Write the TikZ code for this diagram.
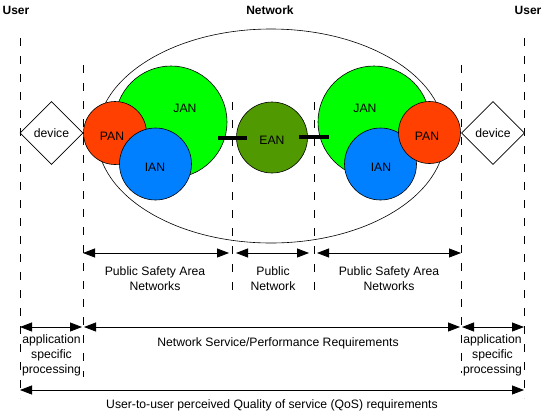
\documentclass[tikz,border=0pt]{standalone}
\usepackage{fontspec}
\setmainfont{Liberation Sans}
\usetikzlibrary{shapes.geometric,arrows.meta}
\definecolor{jancol}{RGB}{0,255,0}
\definecolor{pancol}{RGB}{255,64,0}
\definecolor{iancol}{RGB}{0,128,255}
\definecolor{eancol}{RGB}{80,153,0}
\begin{document}
\begin{tikzpicture}[x=1pt,y=-1pt,
  every node/.style={font=\fontsize{12.2}{15}\selectfont, inner sep=0pt},
  net/.style={circle, draw=black, line width=0.6pt, minimum size=#1},
  devbox/.style={diamond, draw=black, line width=0.6pt, minimum width=63pt, minimum height=63pt, aspect=1, fill=white},
  sep/.style={line width=0.8pt, dash pattern=on 8pt off 10pt},
  dim/.style={line width=0.8pt, {Triangle[length=12pt,width=9pt]}-{Triangle[length=12pt,width=9pt]}},
  bar/.style={line width=3.5pt},
  hdr/.style={font=\fontsize{12}{14}\selectfont\bfseries},
  lbl/.style={align=center}]
\useasboundingbox (0,0) rectangle (546,416);
\fill[white] (0,0) rectangle (546,416);
% headers
\node[hdr] (userL) at (16,10) {User};
\node[hdr] (netw) at (270,10) {Network};
\node[hdr] (userR) at (528,10) {User};
% separators
\coordinate (s1t) at (20,38);  \coordinate (s1b) at (20,398);
\coordinate (s2t) at (83,65);  \coordinate (s2b) at (83,377);
\coordinate (s3t) at (232,102); \coordinate (s3b) at (232,290);
\coordinate (s4t) at (314,102); \coordinate (s4b) at (314,290);
\coordinate (s5t) at (461,65); \coordinate (s5b) at (461,373);
\coordinate (s6t) at (524,38); \coordinate (s6b) at (524,398);
\foreach \i in {1,...,6} \draw[sep] (s\i t) -- (s\i b);
% ellipse
\node[ellipse, draw=black, line width=0.6pt, minimum width=348pt, minimum height=214pt] (cloud) at (271,136) {};
% left cluster
\node[net=112pt, fill=jancol] (janL) at (171,122) {};
\node[net=63pt, fill=pancol] (panL) at (115,133) {};
\node[net=72pt, fill=iancol] (ianL) at (155.5,164) {};
% EAN
\node[net=71pt, fill=eancol] (ean) at (272,137.5) {};
% right cluster
\node[net=112pt, fill=jancol] (janR) at (374,122) {};
\node[net=72pt, fill=iancol] (ianR) at (380.5,164) {};
\node[net=62pt, fill=pancol] (panR) at (429.5,132.5) {};
% labels
\node (tJanL) at (185,108) {JAN};
\node (tPanL) at (112,136) {PAN};
\node (tIanL) at (155,167) {IAN};
\node (tEan) at (272,140) {EAN};
\node (tJanR) at (365,108) {JAN};
\node (tIanR) at (381,167) {IAN};
\node (tPanR) at (427,136) {PAN};
% bars
\coordinate (b1a) at (218,138); \coordinate (b1b) at (247,138);
\coordinate (b2a) at (299,137); \coordinate (b2b) at (329,137);
\draw[bar] (b1a) -- (b1b);
\draw[bar] (b2a) -- (b2b);
% devices
\node[devbox] (devL) at (51.5,133) {device};
\node[devbox] (devR) at (493,133) {device};
% dimension row 1
\coordinate (r1a) at (83,253); \coordinate (r1b) at (229,253);
\coordinate (r1c) at (236,253); \coordinate (r1d) at (309,253);
\coordinate (r1e) at (317,253); \coordinate (r1f) at (461,253);
\draw[dim] (r1a) -- (r1b);
\draw[dim] (r1c) -- (r1d);
\draw[dim] (r1e) -- (r1f);
\node[lbl] (l1) at (155,278.5) {Public Safety Area\\Networks};
\node[lbl] (l2) at (273,278.5) {Public\\Network};
\node[lbl] (l3) at (389,278.5) {Public Safety Area\\Networks};
% row 2
\coordinate (r2a) at (20,327); \coordinate (r2b) at (82,327);
\coordinate (r2c) at (84,327); \coordinate (r2d) at (460,327);
\coordinate (r2e) at (462,327); \coordinate (r2f) at (524,327);
\draw[dim] (r2a) -- (r2b);
\draw[dim] (r2c) -- (r2d);
\draw[dim] (r2e) -- (r2f);
\node[lbl] (l4) at (51.5,355) {application\\specific\\processing};
\node (l5) at (278,343) {Network Service/Performance Requirements};
\node[lbl] (l6) at (492.5,355) {application\\specific\\processing};
% row 3
\coordinate (r3a) at (20,390); \coordinate (r3b) at (524,390);
\draw[dim] (r3a) -- (r3b);
\node (l7) at (272,405) {User-to-user perceived Quality of service (QoS) requirements};
\end{tikzpicture}
\end{document}
